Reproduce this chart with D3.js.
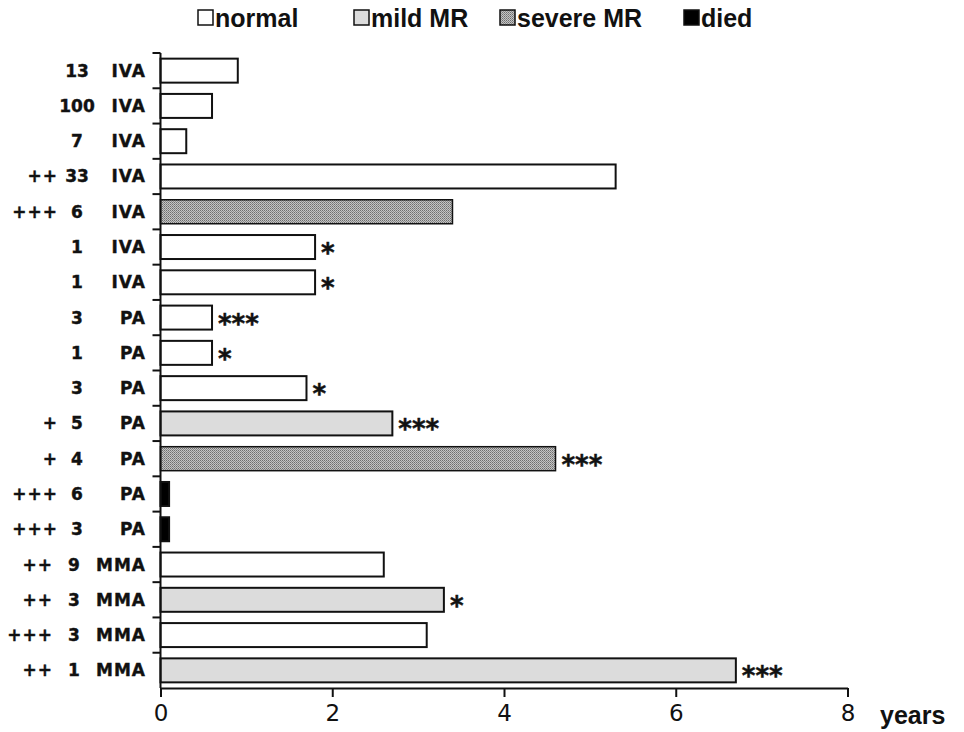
<!DOCTYPE html>
<html>
<head>
<meta charset="utf-8">
<script src="https://cdn.jsdelivr.net/npm/d3@7"></script>
<style>
  body { margin: 0; background: #fff; }
  svg { display: block; }
  .rowlab { font-family: "DejaVu Sans", Verdana, sans-serif; font-weight: bold; font-size: 17px; fill: #111; stroke: #111; stroke-width: 0.4px; }
  .tick text { font-family: "DejaVu Sans", Verdana, sans-serif; font-size: 23px; fill: #111; }
  .legend text, .unit { font-family: "Liberation Sans", Arial, sans-serif; font-weight: bold; font-size: 25px; fill: #111; }
  .star { font-family: "DejaVu Sans", sans-serif; font-weight: bold; font-size: 26px; fill: #111; stroke: #111; stroke-width: 0.5px; }
</style>
</head>
<body>
<svg width="964" height="732"></svg>
<script>
// rows top to bottom
const marks = ['', '', '', '++', '+++', '', '', '', '', '', '+', '+', '+++', '+++', '++', '++', '+++', '++'];
const counts = ['13', '100', '7', '33', '6', '1', '1', '3', '1', '3', '5', '4', '6', '3', '9', '3', '3', '1'];
const types = ['IVA', 'IVA', 'IVA', 'IVA', 'IVA', 'IVA', 'IVA', 'PA', 'PA', 'PA', 'PA', 'PA', 'PA', 'PA', 'MMA', 'MMA', 'MMA', 'MMA'];
const years = [0.9, 0.6, 0.3, 5.3, 3.4, 1.8, 1.8, 0.6, 0.6, 1.7, 2.7, 4.6, 0.1, 0.1, 2.6, 3.3, 3.1, 6.7];
const outcome = ['normal', 'normal', 'normal', 'normal', 'severe MR', 'normal', 'normal', 'normal', 'normal', 'normal',
                 'mild MR', 'severe MR', 'died', 'died', 'normal', 'mild MR', 'normal', 'mild MR'];
const stars = ['', '', '', '', '', '*', '*', '***', '*', '*', '***', '***', '', '', '', '*', '', '***'];
const legendKeys = ['normal', 'mild MR', 'severe MR', 'died'];
const xTicks = [0, 2, 4, 6, 8];

const svg = d3.select('svg');

// dotted fill for severe MR
const defs = svg.append('defs');
const pat = defs.append('pattern')
    .attr('id', 'dots')
    .attr('width', 2).attr('height', 2)
    .attr('patternUnits', 'userSpaceOnUse');
pat.append('rect').attr('width', 2).attr('height', 2).attr('fill', '#c4c4c4');
pat.append('rect').attr('width', 1).attr('height', 1).attr('fill', '#6e6e6e');
pat.append('rect').attr('x', 1).attr('y', 1).attr('width', 1).attr('height', 1).attr('fill', '#8a8a8a');

const fillOf = {
    'normal': '#ffffff',
    'mild MR': '#dcdcdc',
    'severe MR': 'url(#dots)',
    'died': '#000000'
};

const rows = d3.range(years.length);

const xScale = d3.scaleLinear().domain([0, 8]).range([160.5, 847.5]);
const yScale = d3.scaleBand().domain(rows).range([53, 688]).padding(0);
const step = yScale.bandwidth();
const barH = step * 0.68;

// bars
svg.append('g').selectAll('rect')
    .data(rows)
    .enter()
    .append('rect')
    .attr('x', xScale(0))
    .attr('y', i => yScale(i) + (step - barH) / 2)
    .attr('width', i => xScale(years[i]) - xScale(0))
    .attr('height', barH)
    .attr('fill', i => fillOf[outcome[i]])
    .attr('stroke', '#111')
    .attr('stroke-width', i => outcome[i] === 'severe MR' ? 1.5 : 2);

// significance stars
svg.append('g').selectAll('text')
    .data(rows.filter(i => stars[i]))
    .enter()
    .append('text')
    .attr('class', 'star')
    .attr('x', i => xScale(years[i]) + 6)
    .attr('y', i => yScale(i) + step / 2 + 15)
    .text(i => stars[i]);

// y axis: line + ticks at band edges
const yAxis = svg.append('g');
yAxis.append('line')
    .attr('x1', xScale(0)).attr('x2', xScale(0))
    .attr('y1', 53).attr('y2', 688)
    .attr('stroke', '#111').attr('stroke-width', 2);
yAxis.selectAll('.ytick')
    .data(rows)
    .enter()
    .append('line')
    .attr('x1', xScale(0) - 8).attr('x2', xScale(0))
    .attr('y1', i => yScale(i)).attr('y2', i => yScale(i))
    .attr('stroke', '#111').attr('stroke-width', 2);

// row labels
const lab = svg.append('g').selectAll('g')
    .data(rows)
    .enter()
    .append('g')
    .attr('transform', i => `translate(0, ${yScale(i) + step / 2 + 6})`);
lab.append('text').attr('class', 'rowlab')
    .attr('x', i => types[i] === 'MMA' ? 53 : 58)
    .attr('text-anchor', 'end')
    .style('letter-spacing', '1px')
    .text(i => marks[i]);
lab.append('text').attr('class', 'rowlab')
    .attr('x', i => types[i] === 'MMA' ? 74 : 77)
    .attr('text-anchor', 'middle')
    .text(i => counts[i]);
lab.append('text').attr('class', 'rowlab')
    .attr('x', 146)
    .attr('text-anchor', 'end')
    .style('letter-spacing', '1px')
    .text(i => types[i]);

// x axis
const xAxis = svg.append('g')
    .attr('transform', 'translate(0, 688)')
    .call(d3.axisBottom(xScale).tickValues(xTicks).tickSize(9).tickSizeOuter(0).tickPadding(8));
xAxis.select('.domain').attr('stroke', '#111').attr('stroke-width', 2);
xAxis.selectAll('.tick line').attr('stroke', '#111').attr('stroke-width', 2);

svg.append('text')
    .attr('class', 'unit')
    .attr('x', 880)
    .attr('y', 724)
    .text('years');

// legend
const legendX = [198, 354, 500, 684];
const leg = svg.append('g').attr('class', 'legend')
    .selectAll('g')
    .data(legendKeys)
    .enter()
    .append('g')
    .attr('transform', (d, i) => `translate(${legendX[i]}, 0)`);
leg.append('rect')
    .attr('x', 0).attr('y', 10)
    .attr('width', 15).attr('height', 15)
    .attr('fill', d => fillOf[d])
    .attr('stroke', '#111')
    .attr('stroke-width', 1.5);
leg.append('text')
    .attr('x', 17)
    .attr('y', 27)
    .text(d => d);
</script>
</body>
</html>
